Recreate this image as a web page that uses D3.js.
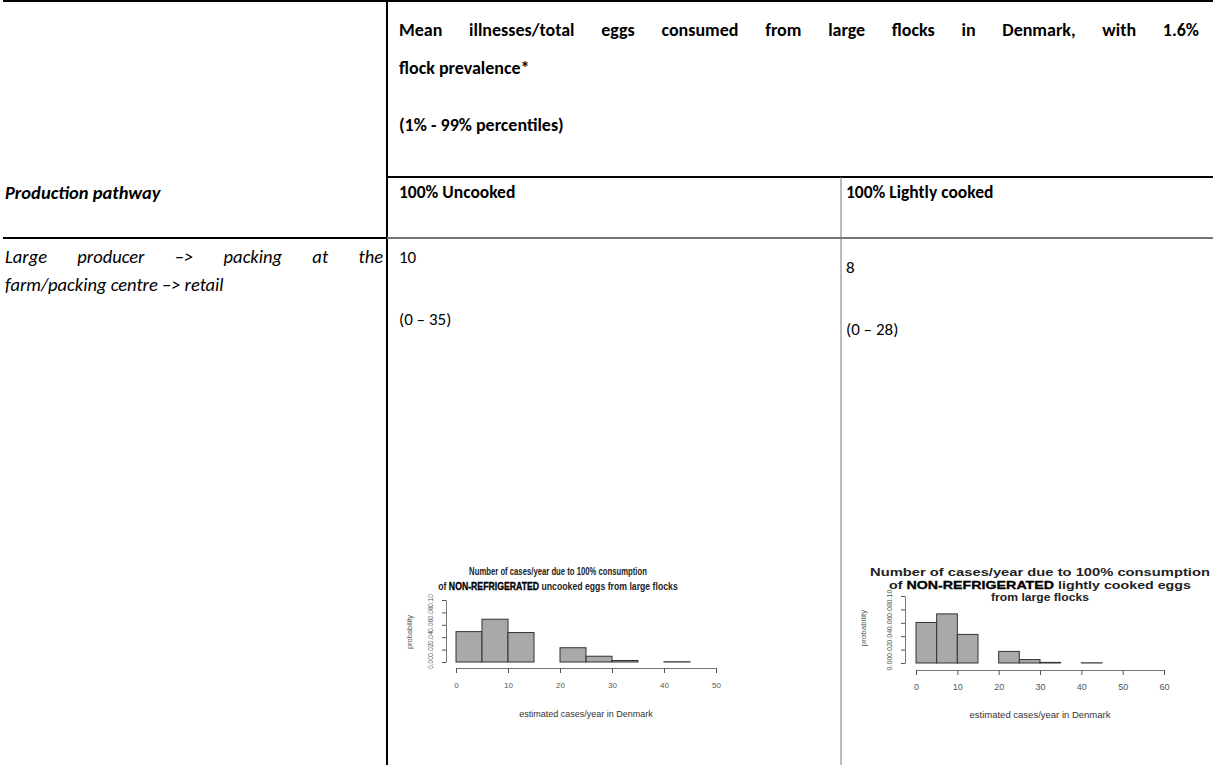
<!DOCTYPE html>
<html>
<head>
<meta charset="utf-8">
<script src="https://cdn.jsdelivr.net/npm/d3@7"></script>
<style>
  body { margin: 0; background: #fff; }
  svg { display: block; }
  .doc { font-family: Carlito, Lato, "Open Sans", sans-serif; fill: #000; }
  .rplot { font-family: "Liberation Sans", Arial, sans-serif; }
</style>
</head>
<body>
<div id="page"></div>
<script>
'use strict';

// Table text
const headerLines = [
  'Mean illnesses/total eggs consumed from large flocks in Denmark, with 1.6%',
  'flock prevalence*',
  '(1% - 99% percentiles)'
];
const rowHeader = 'Production pathway';
const pathwayLines = ['Large producer –> packing at the', 'farm/packing centre –> retail'];
const columnLabels = ['100% Uncooked', '100% Lightly cooked'];
const meanValues = ['10', '8'];
const percentileRanges = ['(0 – 35)', '(0 – 28)'];

// Histogram data (probability per 5-case bin)
const binWidth = 5;
const binStarts = [0, 5, 10, 15, 20, 25, 30, 35, 40, 45, 50, 55];
const uncookedProb = [0.049, 0.069, 0.0475, 0, 0.023, 0.0093, 0.0024, 0, 0.0004, 0];
const lightlyCookedProb = [0.0605, 0.0733, 0.0427, 0, 0.0173, 0.0051, 0.0009, 0, 0.0003, 0, 0, 0];
const yTicks = [0, 0.02, 0.04, 0.06, 0.08, 0.10];
const xTicksUncooked = [0, 10, 20, 30, 40, 50];
const xTicksLightly = [0, 10, 20, 30, 40, 50, 60];
const titleUncooked = [
  [{t: 'Number of cases/year due to 100% consumption'}],
  [{t: 'of '}, {t: 'NON-REFRIGERATED', b: true}, {t: ' uncooked eggs from large flocks'}]
];
const titleLightly = [
  [{t: 'Number of cases/year due to 100% consumption'}],
  [{t: 'of '}, {t: 'NON-REFRIGERATED', b: true}, {t: ' lightly cooked eggs'}],
  [{t: 'from large flocks'}]
];
const xLabel = 'estimated cases/year in Denmark';
const yLabel = 'probability';

const W = 1213, H = 765;
const svg = d3.select('#page').append('svg')
    .attr('width', W)
    .attr('height', H);

/**
 * Table grid
 */
const colA = 387, colB = 841;
const rowA = 177, rowB = 238;
const grid = svg.append('g');
const rule = (x1, y1, x2, y2, color, w) => grid.append('line')
    .attr('x1', x1).attr('y1', y1).attr('x2', x2).attr('y2', y2)
    .attr('stroke', color).attr('stroke-width', w);

rule(3, 1, W, 1, '#000', 2);
rule(colA, 0, colA, H, '#000', 2);
rule(colA, rowA, W, rowA, '#000', 2);
rule(colB, rowA, colB, H, '#777', 1);
rule(3, rowB, colA, rowB, '#000', 2);
rule(colA, rowB, W, rowB, '#777', 2);

// spread the words of a line so it fills the cell, like justified text
function justify(sel, width) {
    sel.each(function () {
        const natural = this.getComputedTextLength();
        const gaps = (this.textContent.match(/ /g) || []).length;
        if (gaps) d3.select(this).attr('word-spacing', (width - natural) / gaps);
    });
}

const doc = svg.append('g').attr('class', 'doc');

doc.selectAll('text.head')
    .data(headerLines)
    .join('text')
    .attr('class', 'head')
    .attr('x', 399)
    .attr('y', (d, i) => [36, 74, 131][i])
    .attr('font-size', 18)
    .attr('font-weight', 'bold')
    .text(d => d)
    .filter((d, i) => i === 0)
    .call(justify, 800);

doc.append('text')
    .attr('x', 5).attr('y', 199)
    .attr('font-size', 18.5)
    .attr('font-weight', 'bold')
    .attr('font-style', 'italic')
    .text(rowHeader);

doc.selectAll('text.col')
    .data(columnLabels)
    .join('text')
    .attr('class', 'col')
    .attr('x', (d, i) => [399, 846][i])
    .attr('y', 198)
    .attr('font-size', 17.5)
    .attr('font-weight', 'bold')
    .text(d => d);

doc.selectAll('text.path')
    .data(pathwayLines)
    .join('text')
    .attr('class', 'path')
    .attr('x', 5)
    .attr('y', (d, i) => 263 + i * 28)
    .attr('font-size', 18.5)
    .attr('font-style', 'italic')
    .text(d => d)
    .filter((d, i) => i === 0)
    .call(justify, 378);

doc.selectAll('text.mean')
    .data(meanValues)
    .join('text')
    .attr('class', 'mean')
    .attr('x', (d, i) => [399, 846][i])
    .attr('y', (d, i) => [263, 273][i])
    .attr('font-size', 17)
    .text(d => d);

doc.selectAll('text.range')
    .data(percentileRanges)
    .join('text')
    .attr('class', 'range')
    .attr('x', (d, i) => [399, 846][i])
    .attr('y', (d, i) => [325, 335][i])
    .attr('font-size', 17)
    .text(d => d);

/**
 * Histograms
 */
function drawHist(cfg) {
    const g = svg.append('g').attr('class', 'rplot');
    const x = d3.scaleLinear().domain([0, cfg.xMax]).range([cfg.left, cfg.right]);
    const y = d3.scaleLinear().domain([0, 0.1]).range([cfg.bottom, cfg.top]);

    const bins = cfg.values.map((p, i) => ({start: binStarts[i], p: p}));

    // empty bins first so the filled ones sit on top of the grey baseline
    g.selectAll('rect')
        .data(bins.slice().sort((a, b) => (a.p > 0) - (b.p > 0)))
        .join('rect')
        .attr('x', d => x(d.start))
        .attr('width', d => x(d.start + binWidth) - x(d.start))
        .attr('y', d => y(d.p))
        .attr('height', d => y(0) - y(d.p))
        .attr('fill', '#a9a9a9')
        .attr('stroke', d => d.p > 0 ? '#333' : '#cfcfcf')
        .attr('stroke-width', d => d.p > 0 ? 1 : 1.5);

    const yAxis = g.append('g')
        .attr('transform', `translate(${cfg.yAxisX},0)`)
        .call(d3.axisLeft(y).tickValues(yTicks).tickFormat(d3.format('.2f')).tickSize(4).tickSizeOuter(0));
    yAxis.selectAll('text')
        .attr('transform', 'rotate(-90)')
        .attr('x', 0)
        .attr('y', -cfg.yLabelGap)
        .attr('dy', 0)
        .attr('text-anchor', 'middle')
        .attr('font-size', cfg.yTickSize);

    const xAxis = g.append('g')
        .attr('transform', `translate(0,${cfg.xAxisY})`)
        .call(d3.axisBottom(x).tickValues(cfg.xTicks).tickSize(5).tickSizeOuter(0).tickPadding(cfg.xPad));
    xAxis.selectAll('text').attr('font-size', cfg.xTickSize);

    [yAxis, xAxis].forEach(a => {
        a.attr('font-family', null);
        a.select('.domain').attr('stroke', '#777');
        a.selectAll('.tick line').attr('stroke', '#555');
        a.selectAll('text').attr('fill', '#555');
    });

    g.append('text')
        .attr('x', cfg.xTitleX)
        .attr('y', cfg.xTitleY)
        .attr('text-anchor', 'middle')
        .attr('font-size', cfg.xTitleSize)
        .attr('fill', '#333')
        .text(xLabel);

    g.append('text')
        .attr('transform', `translate(${cfg.yTitleX},${cfg.yTitleY}) rotate(-90)`)
        .attr('text-anchor', 'middle')
        .attr('font-size', cfg.yTitleSize)
        .attr('fill', '#555')
        .text(yLabel);

    // one text per title line, squeezed/stretched sideways to the measured width
    const title = g.selectAll('text.title')
        .data(cfg.title)
        .join('text')
        .attr('class', 'title')
        .attr('text-anchor', 'middle')
        .attr('font-weight', 'bold')
        .attr('font-size', cfg.titleSize)
        .attr('fill', '#222');
    title.selectAll('tspan')
        .data(d => d)
        .join('tspan')
        .attr('fill', d => d.b ? '#000' : null)
        .attr('stroke', d => d.b ? '#000' : null)
        .attr('stroke-width', d => d.b ? 0.3 : null)
        .text(d => d.t);
    title.attr('transform', function (d, i) {
        const sx = cfg.titleWidths[i] / this.getComputedTextLength();
        return `translate(${cfg.titleX},${cfg.titleY + i * cfg.titleStep}) scale(${sx},1)`;
    });
}

drawHist({
    values: uncookedProb, xMax: 50, xTicks: xTicksUncooked,
    left: 456, right: 716, top: 600, bottom: 662,
    yAxisX: 446, xAxisY: 668, yLabelGap: 13, yTickSize: 6.8,
    xPad: 9, xTickSize: 8,
    xTitleX: 586, xTitleY: 717, xTitleSize: 9,
    yTitleX: 412, yTitleY: 632, yTitleSize: 7.5,
    title: titleUncooked, titleX: 558, titleY: 575, titleStep: 15,
    titleSize: 10, titleWidths: [178, 240]
});

drawHist({
    values: lightlyCookedProb, xMax: 60, xTicks: xTicksLightly,
    left: 916, right: 1164, top: 596, bottom: 663,
    yAxisX: 905, xAxisY: 670, yLabelGap: 13, yTickSize: 7.2,
    xPad: 9, xTickSize: 9,
    xTitleX: 1040, xTitleY: 718, xTitleSize: 9.5,
    yTitleX: 866, yTitleY: 628, yTitleSize: 8,
    title: titleLightly, titleX: 1040, titleY: 576, titleStep: 12.5,
    titleSize: 11, titleWidths: [340, 302, 98]
});
</script>
</body>
</html>
